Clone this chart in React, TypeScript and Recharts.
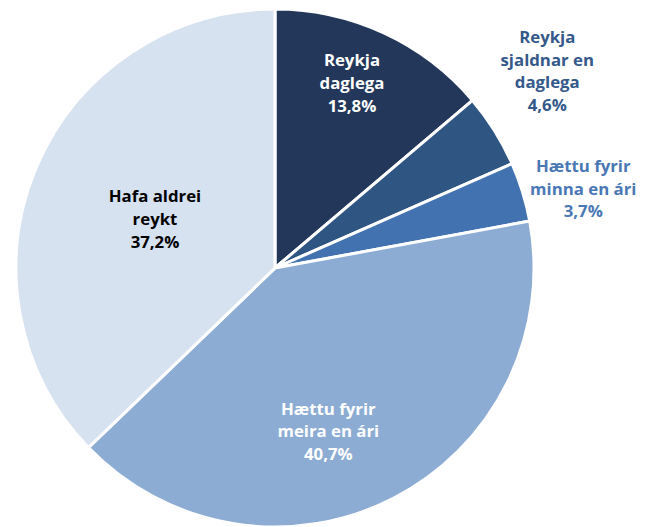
import React from "react";
import { PieChart, Pie, Cell } from "recharts";

const categories = [
  "Reykja daglega",
  "Reykja sjaldnar en daglega",
  "Hættu fyrir minna en ári",
  "Hættu fyrir meira en ári",
  "Hafa aldrei reykt",
];
const values = [13.8, 4.6, 3.7, 40.7, 37.2];
const labelLines = [
  ["Reykja", "daglega"],
  ["Reykja", "sjaldnar en", "daglega"],
  ["Hættu fyrir", "minna en ári"],
  ["Hættu fyrir", "meira en ári"],
  ["Hafa aldrei", "reykt"],
];

const fills = ["#22375A", "#2F5583", "#4273B0", "#8CACD3", "#D6E2EF"];
const textColors = ["#FFFFFF", "#34598A", "#4A78B5", "#FFFFFF", "#000000"];
const radialFactor = [0.777, 1.3, 1.23, 0.66, 0.502];
const angleOffset = [2.35, 4, -2.5, -9, 0.4];

const data = categories.map((name, i) => ({ name, value: values[i] }));

const RAD = Math.PI / 180;

const renderLabel = (props: any) => {
  const { cx, cy, midAngle, outerRadius, index } = props;
  const r = outerRadius * radialFactor[index];
  const a = (midAngle + angleOffset[index]) * RAD;
  const x = cx + r * Math.cos(-a);
  const y = cy + r * Math.sin(-a);
  const lines = [...labelLines[index], values[index].toFixed(1).replace(".", ",") + "%"];
  const lh = 22.7;
  const y0 = y - ((lines.length - 1) * lh) / 2;
  return (
    <text
      x={x}
      y={y0}
      fill={textColors[index]}
      textAnchor="middle"
      dominantBaseline="central"
      fontFamily="'Open Sans', Lato, sans-serif"
      fontWeight="bold"
      fontSize={16.8}
    >
      {lines.map((l, k) => (
        <tspan key={k} x={x} y={y0 + k * lh}>
          {l}
        </tspan>
      ))}
    </text>
  );
};

export default function App() {
  return (
    <div style={{ position: "absolute", left: 0, top: 0, width: 660, height: 527, background: "#fff" }}>
      <PieChart width={660} height={527} margin={{ top: 0, right: 0, bottom: 0, left: 0 }}>
        <Pie
          data={data}
          dataKey="value"
          nameKey="name"
          cx={275}
          cy={268}
          outerRadius={259}
          startAngle={90}
          endAngle={-270}
          stroke="#FFFFFF"
          strokeWidth={3}
          label={renderLabel}
          labelLine={false}
          isAnimationActive={false}
        >
          {data.map((d, i) => (
            <Cell key={d.name} fill={fills[i]} />
          ))}
        </Pie>
      </PieChart>
    </div>
  );
}
